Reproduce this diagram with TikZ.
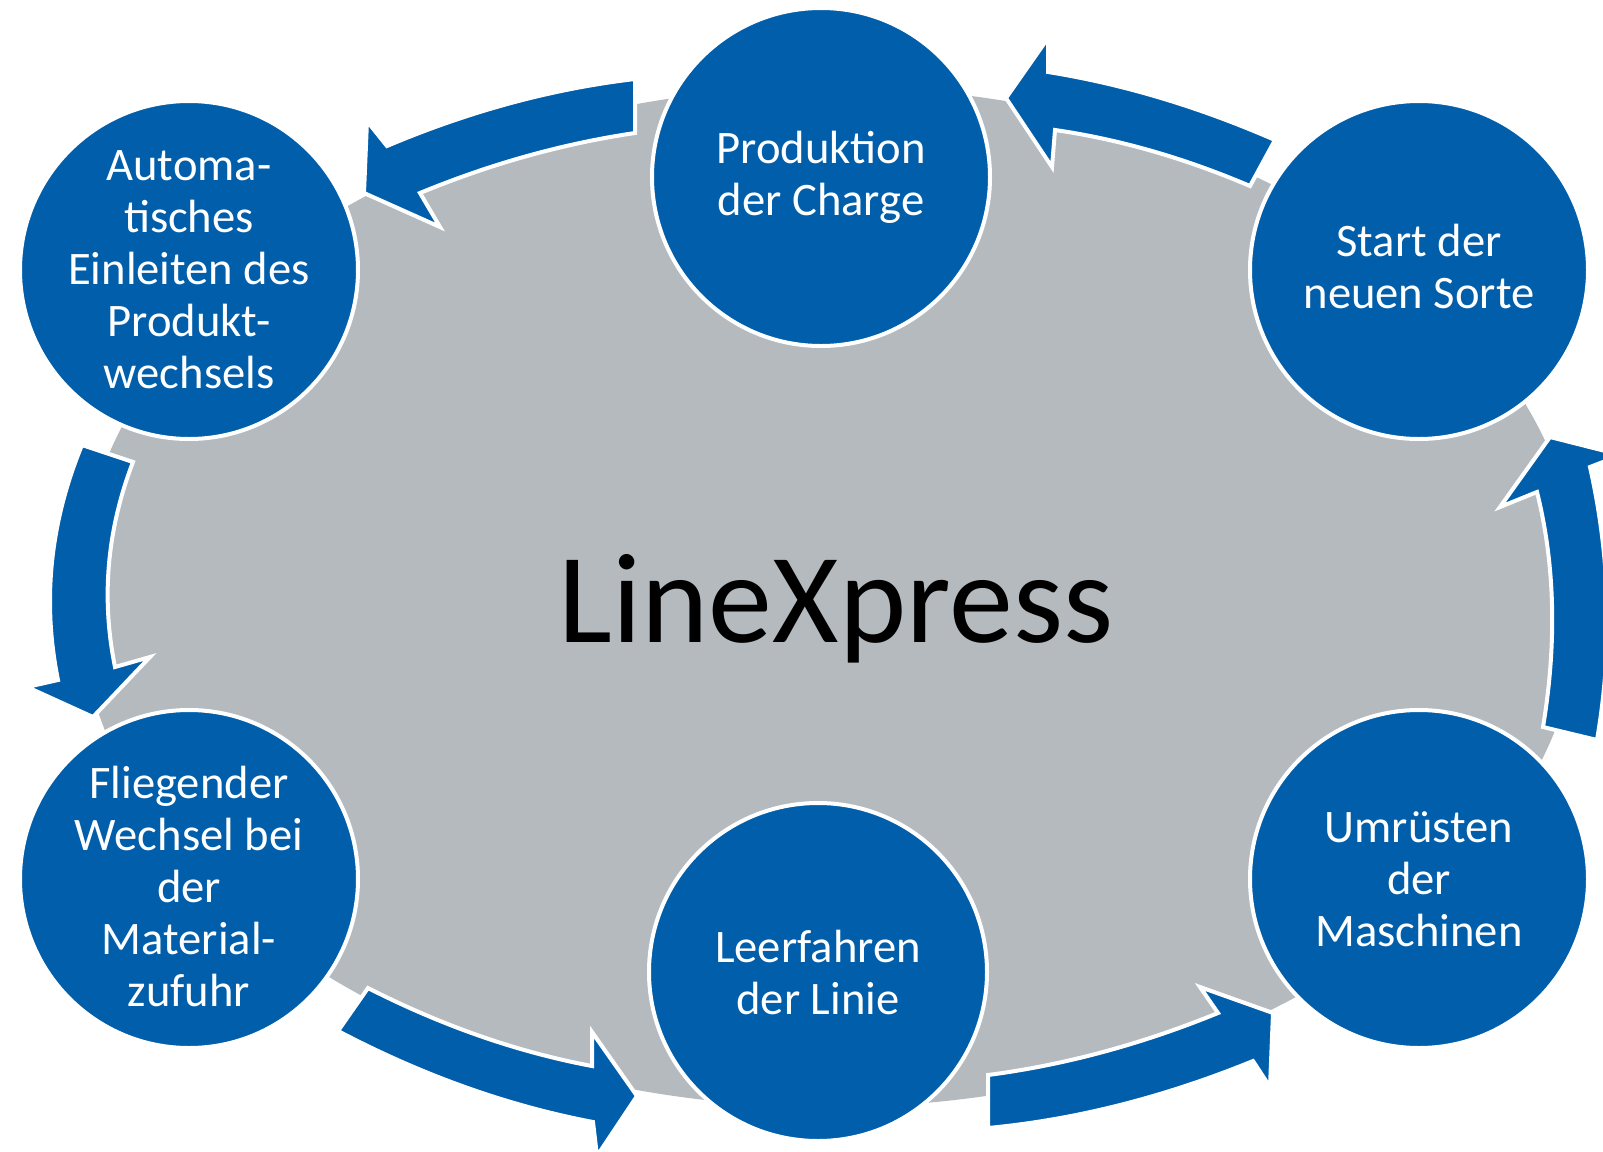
\documentclass[tikz,border=0pt]{standalone}
\usepackage{fontspec}
\setmainfont{Carlito}
\definecolor{myblue}{RGB}{0,94,170}
\definecolor{mygray}{RGB}{181,186,190}
\begin{document}
\begin{tikzpicture}[x=0.5pt,y=-0.5pt,
  stage/.style={circle, fill=myblue, draw=white, line width=2pt, minimum size=169pt, inner sep=0pt},
  stagetext/.style={text=white, align=center, inner sep=0pt, font=\fontsize{23.3}{26}\selectfont},
  blk/.style={fill=myblue, draw=white, line width=2pt, line join=miter}]
\useasboundingbox (0,0) rectangle (1603,1152);
\clip (0,0) rectangle (1603,1152);
% background ellipse
\fill[mygray] (830,597) ellipse [x radius=751, y radius=510];
% block arrows
% top -> top-left
\filldraw[blk] (635,79) .. controls (552.3,88.7) and (469.7,111) .. (387,146) -- (367,121) -- (364,193) -- (440,227) -- (420,193)
  .. controls (491,163.7) and (562.7,143.7) .. (635,133) -- cycle;
% top-left -> bottom-left
\filldraw[blk] (82,445) .. controls (50,522.7) and (42,601) .. (58,680) -- (27,687) -- (93,717) -- (150,657) -- (115,667)
  .. controls (101,598) and (107,529.7) .. (133,462) -- cycle;
% bottom-left -> bottom
\filldraw[blk] (338,1031) .. controls (422.3,1075.3) and (507.3,1105.7) .. (593,1122) -- (597,1156) -- (637,1096) -- (592,1032) -- (592,1066)
  .. controls (517.3,1052) and (442.7,1026) .. (368,988) -- cycle;
% bottom -> bottom-right
\filldraw[blk] (988,1128) .. controls (1075.7,1119.7) and (1164,1097.3) .. (1253,1061) -- (1270,1087) -- (1273,1013) -- (1200,987) -- (1218,1013)
  .. controls (1141.3,1044.3) and (1064.7,1065) .. (988,1075) -- cycle;
% bottom-right -> top-right
\filldraw[blk] (1597,740) .. controls (1612.7,648.3) and (1610.3,557.3) .. (1590,467) -- (1621,455) -- (1550,437) -- (1500,507) -- (1537,492)
  .. controls (1555,564.3) and (1557,642.7) .. (1543,727) -- cycle;
% top-right -> top
\filldraw[blk] (1275,140) .. controls (1198.7,106.7) and (1123,84) .. (1048,72) -- (1048,38) -- (1006,98) -- (1052,167) -- (1055,130)
  .. controls (1119.3,139.3) and (1184.3,158) .. (1250,186) -- cycle;
% stages
\node[stage] (prod) at (821,177) {};
\node[stage] (auto) at (189,270) {};
\node[stage] (start) at (1419,270) {};
\node[stage] (flieg) at (189,879) {};
\node[stage] (umr) at (1419,879) {};
\node[stage] (leer) at (818,972) {};
\node[stagetext] (prodt) at ([yshift=0pt]prod.center) {Produktion\\der Charge};
\node[stagetext] (autot) at (auto.center) {Automa-\\tisches\\Einleiten des\\Produkt-\\wechsels};
\node[stagetext] (startt) at ([yshift=2pt]start.center) {Start der\\neuen Sorte};
\node[stagetext] (fliegt) at ([yshift=-3.5pt]flieg.center) {Fliegender\\Wechsel bei\\der\\Material-\\zufuhr};
\node[stagetext] (umrt) at (umr.center) {Umrüsten\\der\\Maschinen};
\node[stagetext] (leert) at (leer.center) {Leerfahren\\der Linie};
% center title
\node[anchor=base, font=\fontsize{64}{70}\selectfont, inner sep=0pt] (lx) at (836,642) {LineXpress};
\end{tikzpicture}
\end{document}
